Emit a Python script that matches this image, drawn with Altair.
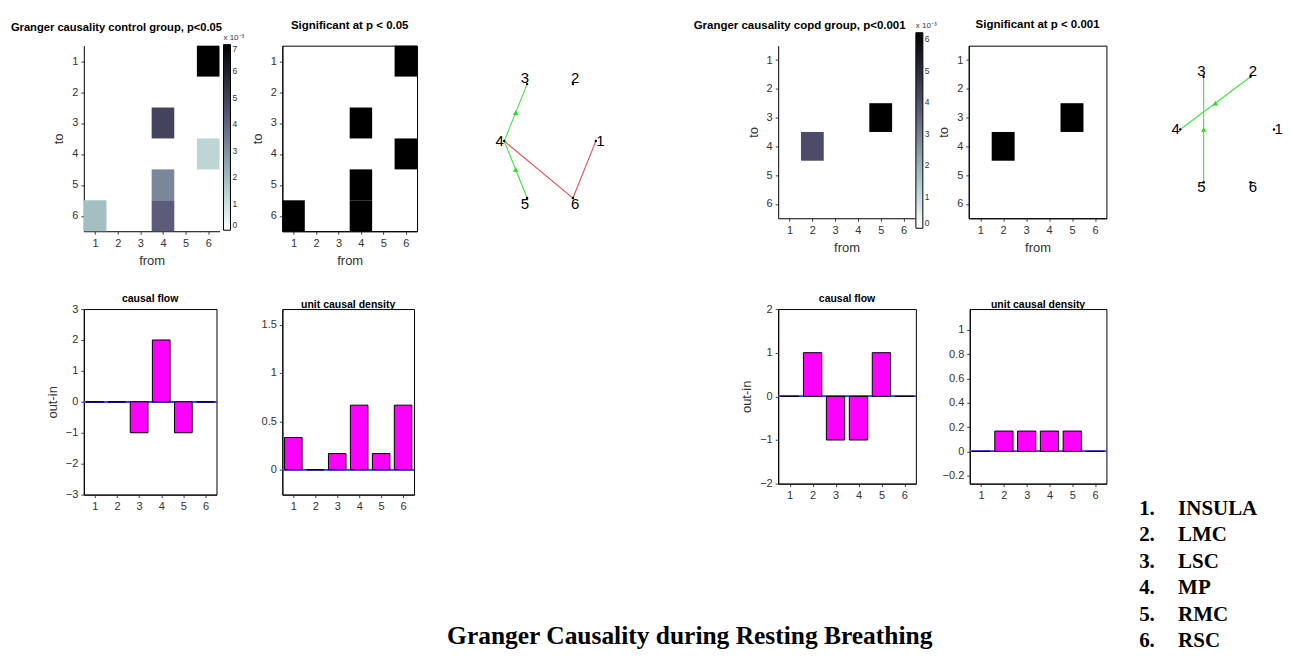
import altair as alt
import pandas as pd

NARROW = "Liberation Sans Narrow, Arial Narrow, Liberation Sans, Arial, sans-serif"
SANS = "Liberation Sans, Arial, sans-serif"
SERIF = "Liberation Serif, Times New Roman, serif"

# ---------------- data ----------------
node_ids = [1, 2, 3, 4, 5, 6]
node_names = ["INSULA", "LMC", "LSC", "MP", "RMC", "RSC"]
node_x = [1.0, 0.5, -0.5, -1.0, -0.5, 0.5]
node_y = [0.0, 0.866, 0.866, 0.0, -0.866, -0.866]
ticks6 = [1, 2, 3, 4, 5, 6]

# Granger causality values (x 10^-3), source -> target
ctrl_from = [6, 4, 6, 4, 1, 4]
ctrl_to = [1, 3, 4, 5, 6, 6]
ctrl_gc = [7.0, 4.9, 1.3, 3.2, 1.9, 4.2]

copd_from = [2, 5]
copd_to = [4, 3]
copd_gc = [4.1, 6.2]

ctrl_flow = [0, 0, -1, 2, -1, 0]
ctrl_density = [0.333, 0.0, 0.167, 0.667, 0.167, 0.667]
copd_flow = [0, 1, -1, -1, 1, 0]
copd_density = [0.0, 0.167, 0.167, 0.167, 0.167, 0.0]

bone_colors = ["#ffffff", "#a7c7c7", "#545474", "#000000"]
bone_pos = [0.0, 0.25, 0.625, 1.0]


def axis(title, values, fmt=None):
    kw = dict(title=title, values=values, grid=False, domainColor="black",
              tickColor="#444", tickSize=3,
              labelFont=NARROW, labelFontSize=11, labelColor="#333",
              titleFont=NARROW, titleFontSize=13, titleFontWeight="normal",
              titleColor="#333", labelPadding=3, titlePadding=6)
    if fmt:
        kw["format"] = fmt
    return alt.Axis(**kw)


def ttl(text, size, dx=0, offset=8):
    return alt.TitleParams(text=text, font=SANS, fontSize=size, fontWeight="bold",
                           color="black", anchor="middle", dx=dx, offset=offset,
                           frame="group")


def heatmap(frm, to, val, title, cmax, significant, w, h, title_dx, title_off,
            leg_x=3, leg_y=0, leg_len=186, boxed=False, title_size=11.5):
    df = pd.DataFrame({"src": frm, "dst": to, "gc": val})
    base = alt.Chart(df).transform_calculate(
        x1="datum.src - 0.5", x2="datum.src + 0.5",
        y1="datum.dst - 0.5", y2="datum.dst + 0.5")
    xs = alt.Scale(domain=[0.5, 6.5], nice=False, zero=False)
    ys = alt.Scale(domain=[0.5, 6.5], nice=False, zero=False, reverse=True)
    enc = dict(
        x=alt.X("x1:Q", scale=xs, axis=axis("from", ticks6)),
        x2="x2:Q",
        y=alt.Y("y1:Q", scale=ys, axis=axis("to", ticks6)),
        y2="y2:Q",
    )
    if significant:
        enc["color"] = alt.value("black")
    else:
        enc["color"] = alt.Color(
            "gc:Q",
            scale=alt.Scale(domain=[p * cmax for p in bone_pos], range=bone_colors,
                            interpolate="rgb", nice=False, zero=False),
            legend=alt.Legend(
                orient="none", legendX=w + leg_x, legendY=leg_y, direction="vertical",
                gradientLength=leg_len, gradientThickness=7,
                gradientStrokeColor="black", gradientStrokeWidth=1,
                values=list(range(0, int(cmax) + 1)), title="x 10⁻³",
                titleFont=NARROW, titleFontSize=8, titleFontWeight="normal",
                titleColor="#333", titlePadding=3,
                labelFont=NARROW, labelFontSize=8.5, labelColor="#333", labelOffset=2,
                padding=0),
        )
    ch = base.mark_rect().encode(**enc).properties(
        width=w, height=h, title=ttl(title, title_size, title_dx, title_off),
        view=alt.ViewBackground(stroke="black" if boxed else None, strokeWidth=1))
    return ch


def barplot(vals, title, ydom, yticks, ytitle, w, h):
    df = pd.DataFrame({"node": ticks6, "v": vals})
    xs = alt.Scale(domain=[0.5, 6.5], nice=False, zero=False)
    ys = alt.Scale(domain=ydom, nice=False, zero=False)
    base = alt.Chart(df).transform_calculate(a="datum.node - 0.4", b="datum.node + 0.4",
                                             zero="0")
    rule = base.mark_rule(color="#3a3aff", strokeWidth=1.2).encode(
        y=alt.Y("zero:Q", scale=ys, axis=axis(ytitle, yticks, "~g")))
    bars = base.mark_rect(color="#ff00ff", stroke="black", strokeWidth=1).encode(
        x=alt.X("a:Q", scale=xs, axis=axis(None, ticks6)),
        x2="b:Q",
        y=alt.Y("v:Q", scale=ys, axis=axis(ytitle, yticks, "~g")),
        y2="zero:Q",
    )
    return alt.layer(rule, bars).properties(
        width=w, height=h, title=ttl(title, 10.5, 0, -1),
        view=alt.ViewBackground(stroke="black", strokeWidth=1))


def network(frm, to, w, h, xdom, ydom):
    nodes = pd.DataFrame({"id": node_ids, "x": node_x, "y": node_y})
    nodes["lx"] = nodes["x"] * 1.1
    nodes["ly"] = nodes["y"] * 1.1
    pos = {i: (x, y) for i, x, y in zip(node_ids, node_x, node_y)}
    pairs = set(zip(frm, to))
    red, green = [], []
    for f, t in zip(frm, to):
        (x1, y1), (x2, y2) = pos[f], pos[t]
        rec = {"x": x1, "y": y1, "x2": x2, "y2": y2,
               "mx": (x1 + x2) / 2, "my": (y1 + y2) / 2}
        if (t, f) in pairs:
            if f < t:
                red.append(rec)
        else:
            green.append(rec)
    xs = alt.Scale(domain=xdom, nice=False, zero=False)
    ys = alt.Scale(domain=ydom, nice=False, zero=False)
    layers = []
    if red:
        layers.append(alt.Chart(pd.DataFrame(red)).mark_rule(color="#ec4a4a", strokeWidth=1.1).encode(
            x=alt.X("x:Q", scale=xs, axis=None), y=alt.Y("y:Q", scale=ys, axis=None),
            x2="x2:Q", y2="y2:Q"))
    if green:
        gdf = pd.DataFrame(green)
        layers.append(alt.Chart(gdf).mark_rule(color="#44e044", strokeWidth=1.1).encode(
            x=alt.X("x:Q", scale=xs, axis=None), y=alt.Y("y:Q", scale=ys, axis=None),
            x2="x2:Q", y2="y2:Q"))
        layers.append(alt.Chart(gdf).mark_point(shape="triangle-up", filled=True, size=28,
                                                color="#22dd22", opacity=1).encode(
            x=alt.X("mx:Q", scale=xs, axis=None), y=alt.Y("my:Q", scale=ys, axis=None)))
    layers.append(alt.Chart(nodes).mark_circle(size=6, color="black", opacity=1).encode(
        x=alt.X("x:Q", scale=xs, axis=None), y=alt.Y("y:Q", scale=ys, axis=None)))
    layers.append(alt.Chart(nodes).mark_text(font=SANS, fontSize=15, color="black").encode(
        x=alt.X("lx:Q", scale=xs, axis=None), y=alt.Y("ly:Q", scale=ys, axis=None),
        text="id:N"))
    return alt.layer(*layers).properties(width=w, height=h,
                                         view=alt.ViewBackground(stroke=None))


def legend_list(h, dom):
    rows = []
    for i, n in zip(node_ids, node_names):
        rows.append({"row": i, "col": 0, "txt": f"{i}."})
        rows.append({"row": i, "col": 1, "txt": n})
    df = pd.DataFrame(rows)
    return alt.Chart(df).mark_text(align="left", font=SERIF, fontSize=21,
                                   fontWeight="bold", color="black").encode(
        x=alt.X("col:Q", scale=alt.Scale(domain=[-0.2, 3.0], nice=False, zero=False),
                axis=None),
        y=alt.Y("row:Q", scale=alt.Scale(domain=dom, nice=False, zero=False,
                                         reverse=True), axis=None),
        text="txt:N",
    ).properties(width=125, height=h, view=alt.ViewBackground(stroke=None))


# ---------------- panels ----------------
heat1 = heatmap(ctrl_from, ctrl_to, ctrl_gc, "Granger causality control group, p<0.05",
                7, False, 136, 186, -35.3, 1, leg_x=4, leg_y=-12, leg_len=186,
                title_size=11.2)
heat2 = heatmap(ctrl_from, ctrl_to, ctrl_gc, "Significant at p < 0.05",
                7, True, 135, 186, 0, 14, boxed=True)
net1 = network(ctrl_from, ctrl_to, 186, 186, [-2.75, 1.3], [-1.37, 1.45])
flow1 = barplot(ctrl_flow, "causal flow", [-3, 3], [-3, -2, -1, 0, 1, 2, 3], "out-in", 133, 186)
dens1 = barplot(ctrl_density, "unit causal density", [-0.257, 1.66], [0, 0.5, 1, 1.5], None, 132, 186)

heat3 = heatmap(copd_from, copd_to, copd_gc, "Granger causality copd group, p<0.001",
                6.2, False, 137, 173, -47, -10, leg_x=1, leg_y=-24, leg_len=196)
heat4 = heatmap(copd_from, copd_to, copd_gc, "Significant at p < 0.001",
                6.2, True, 138, 173, 0, 15, boxed=True)
net2 = network(copd_from, copd_to, 172, 173, [-2.553, 1.107], [-1.459, 1.377])
flow2 = barplot(copd_flow, "causal flow", [-2, 2], [-2, -1, 0, 1, 2], "out-in", 138, 175)
dens2 = barplot(copd_density, "unit causal density", [-0.265, 1.17],
                [-0.2, 0, 0.2, 0.4, 0.6, 0.8, 1], None, 137, 175)
legend_txt = legend_list(336, [-6.519, 6.113])

left = alt.vconcat(
    alt.hconcat(heat1, heat2, net1, spacing=6).resolve_scale(color="independent"),
    alt.hconcat(flow1, dens1, spacing=42),
    spacing=25,
).resolve_scale(color="independent")
right = alt.vconcat(
    alt.hconcat(heat3, heat4, net2, spacing=0).resolve_scale(color="independent"),
    alt.hconcat(flow2, dens2, legend_txt, spacing=23),
    spacing=38,
).resolve_scale(color="independent")

chart = alt.hconcat(left, right, spacing=84).resolve_scale(color="independent").properties(
    padding={"left": 2, "top": 10, "right": 0, "bottom": 0},
    title=alt.TitleParams(
        text="Granger Causality during Resting Breathing", orient="bottom",
        anchor="middle", font=SERIF, fontSize=25.5, fontWeight="bold", color="black",
        dx=43, offset=-27),
).configure(background="white").configure_view(strokeWidth=1)

chart.save("out.html", embed_options={"renderer": "svg", "actions": False})
